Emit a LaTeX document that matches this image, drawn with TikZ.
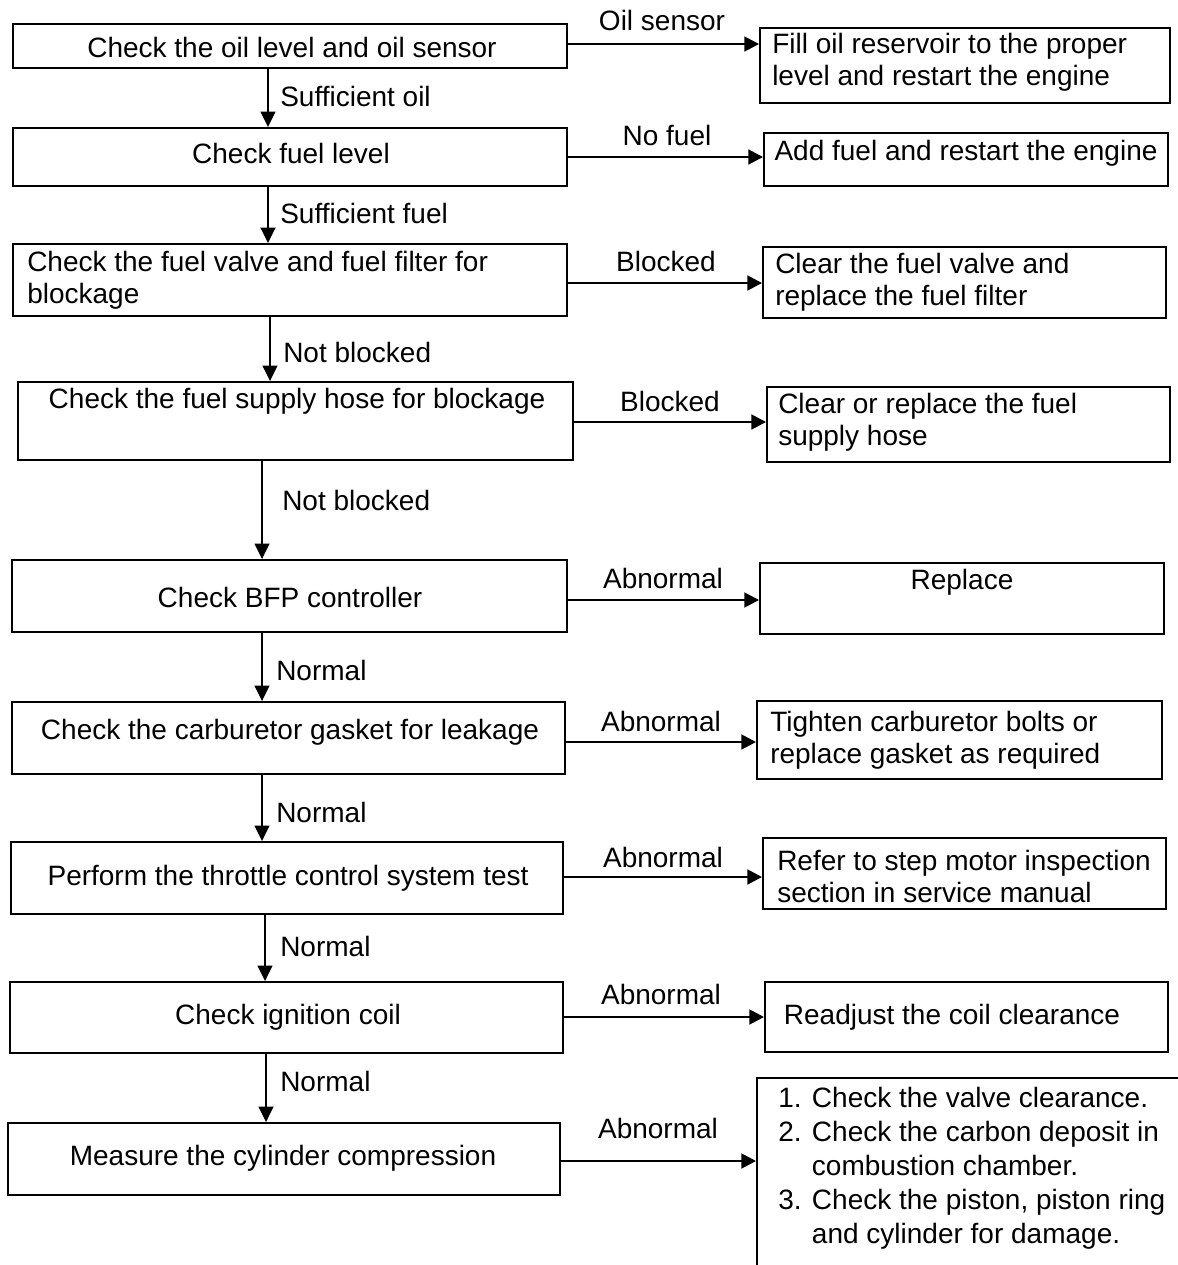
\documentclass[tikz,border=0pt]{standalone}
\usepackage{fontspec}
\setmainfont{Liberation Sans}
\usetikzlibrary{arrows.meta,fit}
\begin{document}
\begin{tikzpicture}[x=0.75pt,y=-0.75pt,
  box/.style={draw,line width=1.4pt,inner sep=0pt},
  txt/.style={inner sep=0pt,font=\fontsize{21}{24}\selectfont},
  ltxt/.style={txt,align=left,anchor=west},
  lbl/.style={txt,anchor=west},
  vflow/.style={line width=1.5pt,-{Triangle[length=11.5pt,width=11pt]}},
  hflow/.style={line width=2pt,-{Triangle[length=11pt,width=11pt]}}]
\useasboundingbox (0,0) rectangle (1178,1265);
\clip (0,0) rectangle (1178,1265);

% ---- main check sequence (left column) ----
\node[box,fit={(13,24) (567,68)}]    (b1) {};
\node[box,fit={(13,128) (567,186)}]  (b2) {};
\node[box,fit={(13,244) (567,316)}]  (b3) {};
\node[box,fit={(18,382) (573,460)}]  (b4) {};
\node[box,fit={(12,560) (567,632)}]  (b5) {};
\node[box,fit={(12,702) (565,774)}]  (b6) {};
\node[box,fit={(11,842) (563,914)}]  (b7) {};
\node[box,fit={(10,982) (563,1053)}] (b8) {};
\node[box,fit={(8,1123) (560,1195)}] (b9) {};

\node[txt] (t1) at (292,47)  {Check the oil level and oil sensor};
\node[txt] (t2) at (291,153) {Check fuel level};
\node[ltxt] (t3) at (27,280) {Check the fuel valve and fuel filter for\\blockage};
\node[txt] (t4) at (297,401) {Check the fuel supply hose for blockage};
\node[txt] (t5) at (290,597) {Check BFP controller};
\node[txt] (t6) at (290,732) {Check the carburetor gasket for leakage};
\node[txt] (t7) at (288,878) {Perform the throttle control system test};
\node[txt] (t8) at (288,1017) {Check ignition coil};
\node[txt] (t9) at (283,1158) {Measure the cylinder compression};

% ---- remedies (right column) ----
\node[box,fit={(760,28) (1170,103)}]   (r1) {};
\node[box,fit={(764,133) (1168,186)}]  (r2) {};
\node[box,fit={(763,247) (1166,318)}]  (r3) {};
\node[box,fit={(767,387) (1170,462)}]  (r4) {};
\node[box,fit={(760,563) (1164,634)}]  (r5) {};
\node[box,fit={(757,701) (1162,779)}]  (r6) {};
\node[box,fit={(763,838) (1166,909)}]  (r7) {};
\node[box,fit={(765,982) (1168,1052)}] (r8) {};
\node[box,fit={(757,1078) (1200,1300)}] (r9) {};

\node[ltxt] (s1) at (772,62)  {Fill oil reservoir to the proper\\level and restart the engine};
\node[txt]  (s2) at (966,153) {Add fuel and restart the engine};
\node[ltxt] (s3) at (775,282) {Clear the fuel valve and\\replace the fuel filter};
\node[ltxt] (s4) at (778,422) {Clear or replace the fuel\\supply hose};
\node[txt]  (s5) at (962,582) {Replace};
\node[ltxt] (s6) at (770,740) {Tighten carburetor bolts or\\replace gasket as required};
\node[ltxt] (s7) at (777,876) {Refer to step motor inspection\\section in service manual};
\node[txt]  (s8) at (952,1017) {Readjust the coil clearance};
\node[ltxt,font=\fontsize{21}{25.5}\selectfont] (s9) at (778,1168)
  {1. Check the valve clearance.\\
   2. Check the carbon deposit in\\
   \hphantom{2. }combustion chamber.\\
   3. Check the piston, piston ring\\
   \hphantom{3. }and cylinder for damage.};

% ---- downward connectors ----
\coordinate (v1) at (268,0);
\coordinate (v2) at (268,0);
\coordinate (v3) at (270,0);
\coordinate (v4) at (262,0);
\coordinate (v5) at (262,0);
\coordinate (v6) at (262,0);
\coordinate (v7) at (265,0);
\coordinate (v8) at (266,0);
\draw[vflow] (b1.south -| v1) -- (b2.north -| v1);
\draw[vflow] (b2.south -| v2) -- (b3.north -| v2);
\draw[vflow] (b3.south -| v3) -- (b4.north -| v3);
\draw[vflow] (b4.south -| v4) -- (b5.north -| v4);
\draw[vflow] (b5.south -| v5) -- (b6.north -| v5);
\draw[vflow] (b6.south -| v6) -- (b7.north -| v6);
\draw[vflow] (b7.south -| v7) -- (b8.north -| v7);
\draw[vflow] (b8.south -| v8) -- (b9.north -| v8);

\node[lbl] (d1) at (280,96)   {Sufficient oil};
\node[lbl] (d2) at (280,213)  {Sufficient fuel};
\node[lbl] (d3) at (283,352)  {Not blocked};
\node[lbl] (d4) at (282,500)  {Not blocked};
\node[lbl] (d5) at (276,670)  {Normal};
\node[lbl] (d6) at (276,812)  {Normal};
\node[lbl] (d7) at (280,946)  {Normal};
\node[lbl] (d8) at (280,1081) {Normal};

% ---- sideways connectors ----
\coordinate (h1) at (0,44);
\coordinate (h2) at (0,157);
\coordinate (h3) at (0,283);
\coordinate (h4) at (0,422);
\coordinate (h5) at (0,600);
\coordinate (h6) at (0,742);
\coordinate (h7) at (0,877);
\coordinate (h8) at (0,1017);
\coordinate (h9) at (0,1161);
\draw[hflow] (b1.east |- h1) -- (r1.west |- h1);
\draw[hflow] (b2.east |- h2) -- (r2.west |- h2);
\draw[hflow] (b3.east |- h3) -- (r3.west |- h3);
\draw[hflow] (b4.east |- h4) -- (r4.west |- h4);
\draw[hflow] (b5.east |- h5) -- (r5.west |- h5);
\draw[hflow] (b6.east |- h6) -- (r6.west |- h6);
\draw[hflow] (b7.east |- h7) -- (r7.west |- h7);
\draw[hflow] (b8.east |- h8) -- (r8.west |- h8);
\draw[hflow] (b9.east |- h9) -- (r9.west |- h9);

\node[txt] (e1) at (662,20)   {Oil sensor};
\node[txt] (e2) at (667,135)  {No fuel};
\node[txt] (e3) at (666,261)  {Blocked};
\node[txt] (e4) at (670,401)  {Blocked};
\node[txt] (e5) at (663,578)  {Abnormal};
\node[txt] (e6) at (661,721)  {Abnormal};
\node[txt] (e7) at (663,857)  {Abnormal};
\node[txt] (e8) at (661,994)  {Abnormal};
\node[txt] (e9) at (658,1128) {Abnormal};
\end{tikzpicture}
\end{document}
